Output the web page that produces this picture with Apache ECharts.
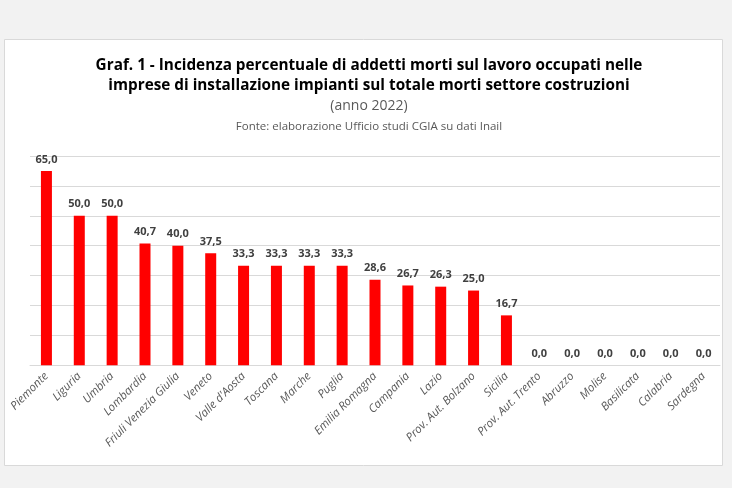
<!DOCTYPE html>
<html><head><meta charset="utf-8">
<script src="https://cdn.jsdelivr.net/npm/echarts@6/dist/echarts.min.js"></script>
<style>html,body{margin:0;padding:0;background:#f2f2f2;}#c{width:732px;height:488px;}</style>
</head><body><div id="c"></div>
<script>
const categories = ["Piemonte","Liguria","Umbria","Lombardia","Friuli Venezia Giulia","Veneto","Valle d'Aosta","Toscana","Marche","Puglia","Emilia Romagna","Campania","Lazio","Prov. Aut. Bolzano","Sicilia","Prov. Aut. Trento","Abruzzo","Molise","Basilicata","Calabria","Sardegna"];
const values = [65.0,50.0,50.0,40.7,40.0,37.5,33.3,33.3,33.3,33.3,28.6,26.7,26.3,25.0,16.7,0.0,0.0,0.0,0.0,0.0,0.0];
const titleLines = ["Graf. 1 - Incidenza percentuale di addetti morti sul lavoro occupati nelle","imprese di installazione impianti sul totale morti settore costruzioni"];
const subtitle = "(anno 2022)";
const source = "Fonte: elaborazione Ufficio studi CGIA su dati Inail";

const FONT = "'Open Sans', sans-serif";
const chart = echarts.init(document.getElementById('c'));
chart.setOption({
  backgroundColor: '#f2f2f2',
  animation: false,
  graphic: [{
    type: 'rect', shape: {x: 4.5, y: 39.5, width: 718, height: 426},
    style: {fill: '#ffffff', stroke: '#d9d9d9', lineWidth: 1}, z: -10
  }],
  title: [
    {text: titleLines.join('\n'), left: 364, top: 51, textAlign: 'center',
     textStyle: {fontFamily: FONT, fontSize: 15.3, fontWeight: 'bold', color: '#000000', lineHeight: 20}},
    {text: subtitle, left: 364, top: 94, textAlign: 'center',
     textStyle: {fontFamily: FONT, fontSize: 14, fontWeight: 'normal', color: '#595959'}},
    {text: source, left: 364, top: 116, textAlign: 'center',
     textStyle: {fontFamily: FONT, fontSize: 11.5, fontWeight: 'normal', color: '#595959'}}
  ],
  grid: {left: 30, right: 12, top: 156, bottom: 122.7, containLabel: false},
  xAxis: {
    type: 'category', data: categories,
    axisLine: {lineStyle: {color: '#d9d9d9'}},
    axisTick: {show: false},
    axisLabel: {interval: 0, rotate: 45, margin: 9, fontFamily: FONT, fontStyle: 'italic', fontSize: 11.5, color: '#595959'}
  },
  yAxis: {
    type: 'value', min: 0, max: 70, interval: 10,
    axisLabel: {show: false}, axisLine: {show: false}, axisTick: {show: false},
    splitLine: {lineStyle: {color: '#d9d9d9'}}
  },
  series: [{
    type: 'bar', data: values, barWidth: 11,
    itemStyle: {color: '#ff0000'},
    label: {show: true, position: 'top', distance: 6, fontFamily: FONT, fontWeight: 'bold', fontSize: 11, color: '#404040',
      formatter: p => p.value.toFixed(1).replace('.', ',')}
  }]
});
</script></body></html>
